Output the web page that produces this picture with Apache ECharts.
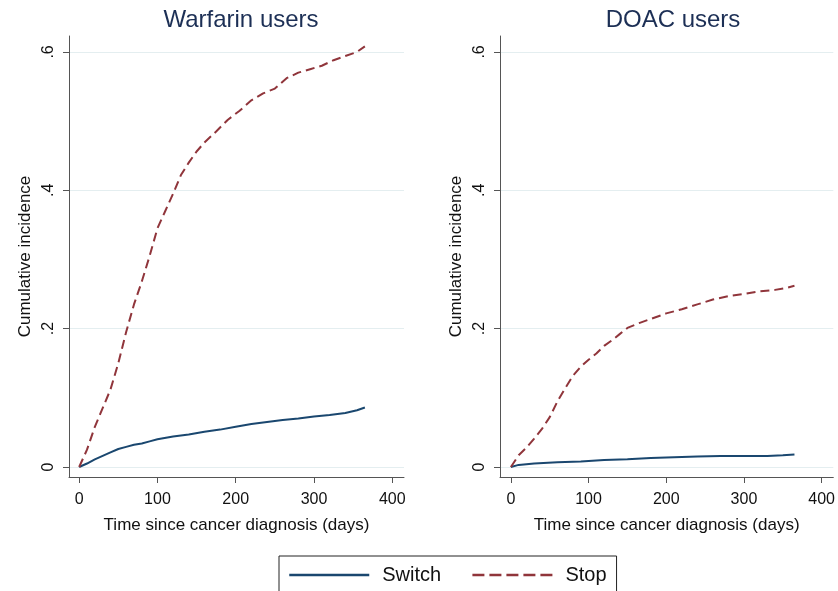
<!DOCTYPE html>
<html>
<head>
<meta charset="utf-8">
<script src="https://cdn.jsdelivr.net/npm/echarts@6/dist/echarts.min.js"></script>
<style>
  html, body { margin: 0; padding: 0; background: #fff; }
  #chart { width: 838px; height: 591px; }
</style>
</head>
<body>
<div id="chart"></div>
<script>
// panel titles and tick values
const panelTitles = ["Warfarin users", "DOAC users"];
const yTicks = [0, 0.2, 0.4, 0.6];
const xTicks = [0, 100, 200, 300, 400];

// [days, cumulative incidence]
const warfarinSwitch = [[0,0],[10,0.005],[20,0.011],[30,0.016],[40,0.021],[50,0.026],[60,0.029],[70,0.032],[80,0.034],[90,0.037],[100,0.04],[120,0.044],[140,0.047],[160,0.051],[180,0.054],[200,0.058],[220,0.062],[240,0.065],[260,0.068],[280,0.07],[300,0.073],[320,0.075],[340,0.078],[355,0.082],[365,0.086]];
const warfarinStop = [[0,0],[10,0.025],[20,0.058],[30,0.085],[40,0.112],[50,0.15],[60,0.195],[70,0.235],[80,0.268],[90,0.305],[100,0.345],[110,0.37],[120,0.395],[130,0.422],[140,0.44],[150,0.456],[160,0.469],[175,0.485],[190,0.502],[205,0.515],[220,0.53],[235,0.54],[250,0.547],[265,0.562],[280,0.57],[295,0.575],[310,0.58],[325,0.588],[340,0.594],[355,0.6],[365,0.608]];
const doacSwitch = [[0,0],[10,0.003],[30,0.005],[60,0.007],[90,0.008],[120,0.01],[150,0.011],[180,0.013],[210,0.014],[240,0.015],[270,0.016],[300,0.016],[330,0.016],[350,0.017],[365,0.018]];
const doacStop = [[0,0],[10,0.017],[20,0.028],[30,0.041],[40,0.055],[50,0.072],[60,0.095],[70,0.114],[80,0.132],[90,0.145],[100,0.155],[110,0.164],[120,0.175],[130,0.183],[140,0.192],[150,0.201],[165,0.208],[180,0.214],[200,0.222],[220,0.228],[240,0.235],[260,0.242],[280,0.247],[300,0.25],[320,0.254],[340,0.256],[355,0.259],[365,0.262]];

const font = "Liberation Sans, Arial, sans-serif";
const navy = "#1a476f";
const maroon = "#90353b";
const axisCol = "#555555";

let myChart = echarts.init(document.getElementById("chart"));

function xAxisFor(i, min, max) {
  return {
    type: "value", gridIndex: i, min: min, max: max,
    name: "Time since cancer diagnosis (days)",
    nameLocation: "middle", nameGap: 40,
    nameTextStyle: { fontFamily: font, fontSize: 17, color: "#111" },
    axisLine: { show: true, onZero: false, lineStyle: { color: axisCol, width: 1 } },
    axisTick: { show: true, length: 6, customValues: xTicks, lineStyle: { color: axisCol } },
    axisLabel: { customValues: xTicks, margin: 15, fontFamily: font, fontSize: 16, color: "#111" },
    splitLine: { show: false },
  };
}

function yAxisFor(i) {
  return {
    type: "value", gridIndex: i, min: -0.0145, max: 0.623,
    name: "Cumulative incidence",
    nameLocation: "middle", nameGap: 35, nameRotate: 90,
    nameTextStyle: { fontFamily: font, fontSize: 17, color: "#111" },
    axisLine: { show: true, onZero: false, lineStyle: { color: axisCol, width: 1 } },
    axisTick: { show: true, length: 6, customValues: yTicks, lineStyle: { color: axisCol } },
    axisLabel: {
      customValues: yTicks, rotate: 90, margin: 12,
      fontFamily: font, fontSize: 16, color: "#111",
      formatter: (v) => (v === 0 ? "0" : String(v).replace("0.", ".")),
    },
    splitLine: { show: true, lineStyle: { color: "#e4eef0", width: 1 } },
  };
}

function lineSeries(name, data, i, color, dashed) {
  return {
    name: name, type: "line", xAxisIndex: i, yAxisIndex: i,
    data: data, showSymbol: false, symbol: "none", silent: true,
    lineStyle: { color: color, width: 2, type: dashed ? [9, 5] : "solid" },
    itemStyle: { color: color },
  };
}

let option = {
  backgroundColor: "#ffffff",
  animation: false,
  title: [
    { text: panelTitles[0], left: 236, top: 3, textAlign: "center",
      textStyle: { fontFamily: font, fontSize: 24, fontWeight: "normal", color: "#1c2f55" } },
    { text: panelTitles[1], left: 668, top: 3, textAlign: "center",
      textStyle: { fontFamily: font, fontSize: 24, fontWeight: "normal", color: "#1c2f55" } },
  ],
  grid: [
    { left: 69, top: 36, width: 335, height: 441 },
    { left: 500, top: 36, width: 336, height: 441 },
  ],
  xAxis: [xAxisFor(0, -13, 415), xAxisFor(1, -14, 415)],
  yAxis: [yAxisFor(0), yAxisFor(1)],
  legend: {
    left: 279, top: 556,
    data: [
      { name: "Switch" },
      { name: "Stop", lineStyle: { type: [12, 5] } },
    ],
    itemWidth: 80, itemHeight: 14, itemGap: 30,
    padding: [9, 10, 20, 9],
    borderColor: "#222", borderWidth: 1,
    itemStyle: { opacity: 0 },
    lineStyle: { width: 2.5 },
    textStyle: { fontFamily: font, fontSize: 20, color: "#111", padding: [0, 0, 0, 8] },
  },
  series: [
    lineSeries("Switch", warfarinSwitch, 0, navy, false),
    lineSeries("Stop", warfarinStop, 0, maroon, true),
    lineSeries("Switch", doacSwitch, 1, navy, false),
    lineSeries("Stop", doacStop, 1, maroon, true),
  ],
};
myChart.setOption(option);
</script>
</body>
</html>
